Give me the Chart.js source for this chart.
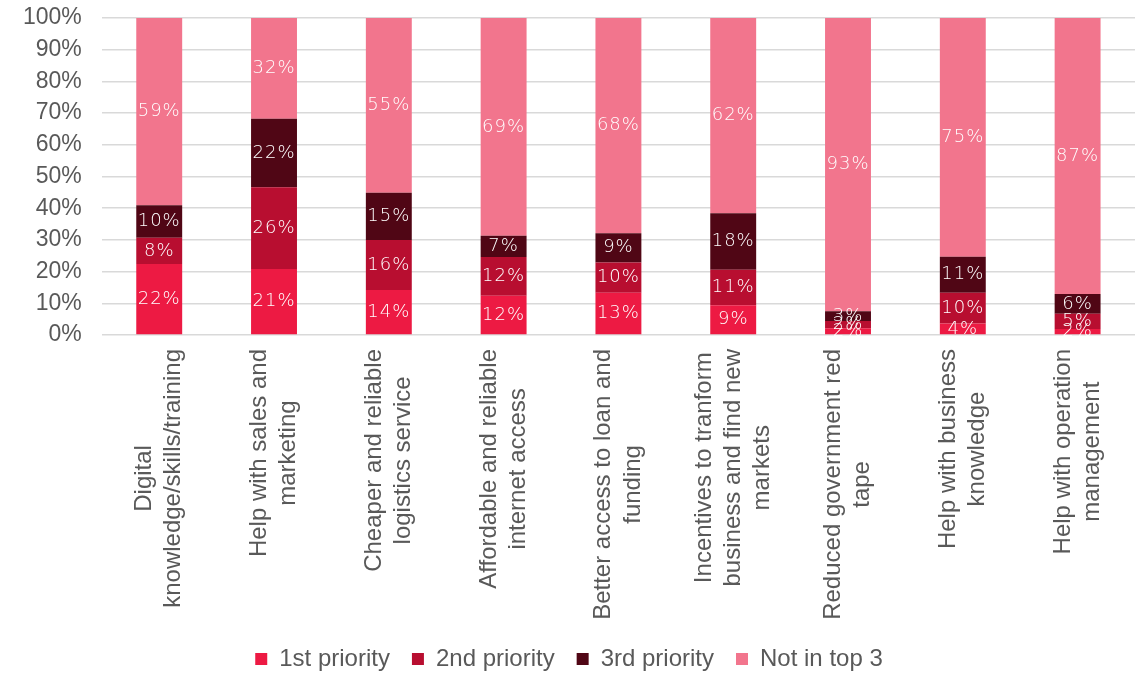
<!DOCTYPE html>
<html>
<head>
<meta charset="utf-8">
<script src="https://cdn.jsdelivr.net/npm/chart.js@4/dist/chart.umd.min.js"></script>
<style>
  html, body { margin: 0; padding: 0; background: #fff; }
  #wrap { width: 1142px; height: 673px; }
</style>
</head>
<body>
<div id="wrap"><canvas id="priorityChart"></canvas></div>
<script>
// support types, each label split into the lines it wraps to
const categories = [
  ["Digital", "knowledge/skills/training"],
  ["Help with sales and", "marketing"],
  ["Cheaper and reliable", "logistics service"],
  ["Affordable and reliable", "internet access"],
  ["Better access to loan and", "funding"],
  ["Incentives to tranform", "business and find new", "markets"],
  ["Reduced government red", "tape"],
  ["Help with business", "knowledge"],
  ["Help with operation", "management"]
];

// share of respondents (%)
const firstPriority  = [22.4, 20.8, 14.2, 12.4, 13.3,  9.4, 2.1,  3.6, 1.9];
const secondPriority = [ 8.3, 25.8, 15.8, 12.2,  9.6, 11.2, 2.3,  9.7, 4.8];
const thirdPriority  = [10.2, 21.6, 14.9,  6.7,  9.2, 17.8, 3.1, 11.4, 6.2];
const notInTop3      = [59.1, 31.8, 55.1, 68.7, 67.9, 61.6, 92.5, 75.3, 87.1];

const seriesNames = ["1st priority", "2nd priority", "3rd priority", "Not in top 3"];
const seriesColors = ["#ED1A43", "#B80E30", "#500615", "#F2758D"];

const axisFont = '"Liberation Sans", Arial, sans-serif';
const grey = "#595959";

// white percentage in the middle of every segment
const segmentLabels = {
  id: "segmentLabels",
  afterDatasetsDraw(chart) {
    const ctx = chart.ctx;
    ctx.save();
    ctx.font = '200 18px "DejaVu Sans"';
    ctx.letterSpacing = "1px";
    ctx.fillStyle = "#ffffff";
    ctx.textAlign = "center";
    ctx.textBaseline = "middle";
    chart.data.datasets.forEach((ds, i) => {
      chart.getDatasetMeta(i).data.forEach((bar, j) => {
        const p = bar.getProps(["x", "y", "base"], true);
        ctx.fillText(Math.round(ds.data[j]) + "%", p.x, (p.y + p.base) / 2);
      });
    });
    ctx.restore();
  }
};

// rotated multi-line labels: centre the block on the tick and centre each line
const centerTickLines = {
  id: "centerTickLines",
  beforeDraw(chart) {
    const items = chart.scales.x.getLabelItems();
    if (items._centered) return;
    const ctx = chart.ctx;
    items.forEach(item => {
      const lines = Array.isArray(item.label) ? item.label : [item.label];
      ctx.save();
      ctx.font = item.font.string;
      const widest = Math.max(...lines.map(l => ctx.measureText(l).width));
      ctx.restore();
      item.options.textAlign = "center";
      item.options.translation[0] -= (lines.length - 1) * item.font.lineHeight / 2;
      item.options.translation[1] += widest / 2;
    });
    items._centered = true;
  }
};

const datasets = [firstPriority, secondPriority, thirdPriority, notInTop3].map((values, i) => ({
  label: seriesNames[i],
  data: values,
  backgroundColor: seriesColors[i],
  borderWidth: 0,
  barPercentage: 0.4,
  categoryPercentage: 1
}));

new Chart(document.getElementById("priorityChart"), {
  type: "bar",
  data: { labels: categories, datasets: datasets },
  plugins: [segmentLabels, centerTickLines],
  options: {
    responsive: true,
    maintainAspectRatio: false,
    animation: false,
    layout: { padding: { left: 3, right: 7, top: 18, bottom: -8 } },
    plugins: {
      tooltip: { enabled: false },
      legend: {
        position: "bottom",
        labels: {
          color: grey,
          font: { family: axisFont, size: 24 },
          boxWidth: 12,
          boxHeight: 12,
          padding: 22
        }
      }
    },
    scales: {
      x: {
        stacked: true,
        grid: { display: false, drawTicks: false },
        border: { display: false },
        ticks: {
          color: grey,
          font: { family: axisFont, size: 24, lineHeight: 1.22 },
          minRotation: 90,
          maxRotation: 90,
          autoSkip: false,
          padding: 14
        },
        afterFit(scale) {
          scale.height = 290;
          scale.paddingLeft = 0;
          scale.paddingRight = 0;
        }
      },
      y: {
        stacked: true,
        min: 0,
        max: 100,
        grid: { color: "#d9d9d9", lineWidth: 1.5, drawTicks: false },
        border: { display: false },
        ticks: {
          stepSize: 10,
          autoSkip: false,
          color: grey,
          font: { family: axisFont, size: 23 },
          padding: 20,
          callback: v => v + "%"
        },
        afterFit(scale) {
          scale.paddingTop = 0;
          scale.paddingBottom = 0;
        }
      }
    }
  }
});
</script>
</body>
</html>
